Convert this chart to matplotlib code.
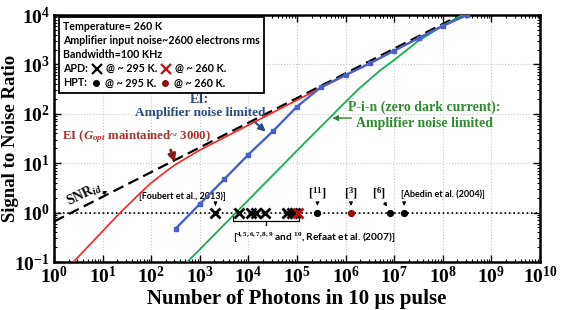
import math
import matplotlib
matplotlib.use('Agg')
import matplotlib.pyplot as plt
from matplotlib.ticker import LogLocator, FuncFormatter, NullFormatter
from matplotlib.offsetbox import TextArea, HPacker, VPacker, AnchoredOffsetbox, DrawingArea
from matplotlib.lines import Line2D

plt.rcParams['mathtext.fontset'] = 'custom'
plt.rcParams['mathtext.rm'] = 'Liberation Serif:bold'
plt.rcParams['mathtext.bf'] = 'Liberation Serif:bold'
plt.rcParams['mathtext.it'] = 'Liberation Serif:italic:bold'
plt.rcParams['mathtext.sf'] = 'Liberation Serif:bold'

# ---------------- data ----------------
ideal_photons = [1, 2.3e8]
ideal_snr = [0.66, 1.0e4]

ei_gopt_photons = [2.5, 10, 23, 50, 100, 200, 300, 1e3, 1e4, 1e5, 1e6, 1e7, 1e8, 2.6e8]
ei_gopt_snr = [0.1, 0.42, 1.0, 2.1, 4.0, 6.8, 9.1, 18.5, 59, 190, 600, 1900, 6100, 1e4]

ei_amp_photons = [316, 1e3, 3.16e3, 1e4, 3.16e4, 1e5, 3.16e5, 1e6, 3.16e6, 1e7, 3.16e7, 1e8, 3.16e8]
ei_amp_snr = [0.47, 1.5, 4.7, 15, 44, 140, 350, 610, 1050, 1900, 3400, 6000, 1e4]

pin_photons = [550, 1e3, 1e4, 1e5, 5e5, 1e6, 2e6, 3e6, 5e6, 1e7, 3e7, 1e8, 3e8]
pin_snr = [0.1, 0.18, 1.8, 18, 88, 175, 340, 480, 740, 1230, 2900, 6100, 11000]

apd_295_photons = [2100, 6500, 11500, 14000, 22000, 63000, 78000, 91000]
apd_260_photons = [107000]
hpt_295_photons = [2.63e5, 8.2e6, 1.6e7]
hpt_260_photons = [1.29e6]
unity_snr = 1.0

# ---------------- figure ----------------
fig = plt.figure(figsize=(5.61, 3.10), dpi=100)
ax = fig.add_axes([0.0963, 0.1548, 0.8663, 0.7968])
ax.set_xscale('log')
ax.set_yscale('log')
ax.set_xlim(1, 1e10)
ax.set_ylim(0.1, 1e4)

ax.grid(True, which='major', color='#c8c8c8', linestyle=':', linewidth=0.8)
ax.set_axisbelow(True)

ax.plot([1, 1e10], [unity_snr, unity_snr], color='black', linestyle=':', linewidth=1.2, zorder=2)

ax.plot(ideal_photons, ideal_snr, color='black', linestyle=(0, (5, 2.5)), linewidth=1.6, zorder=3)
ax.plot(ei_gopt_photons, ei_gopt_snr, color='#ff2020', linewidth=1.2, zorder=4)
ax.plot(ei_amp_photons, ei_amp_snr, color='#4a5fcf', linewidth=1.7, marker='s', markersize=3.3, zorder=5)
ax.plot(pin_photons, pin_snr, color='#10b050', linewidth=1.3, zorder=4)

ax.plot(apd_295_photons, [unity_snr] * len(apd_295_photons), linestyle='none', marker='x',
        color='black', markersize=6.5, markeredgewidth=2.0, zorder=6)
ax.plot(apd_260_photons, [unity_snr] * len(apd_260_photons), linestyle='none', marker='x',
        color='#c01010', markersize=6.5, markeredgewidth=2.0, zorder=6)
ax.plot(hpt_295_photons, [unity_snr] * len(hpt_295_photons), linestyle='none', marker='o',
        color='black', markersize=4.2, zorder=6)
ax.plot(hpt_260_photons, [unity_snr] * len(hpt_260_photons), linestyle='none', marker='o',
        color='#8b1010', markersize=4.2, zorder=6)

# ---------------- axes styling ----------------
for s in ax.spines.values():
    s.set_linewidth(1.8)
ax.xaxis.set_major_locator(LogLocator(base=10, numticks=20))
ax.yaxis.set_major_locator(LogLocator(base=10, numticks=20))
ax.xaxis.set_minor_locator(LogLocator(base=10, subs=range(2, 10), numticks=20))
ax.yaxis.set_minor_locator(LogLocator(base=10, subs=range(2, 10), numticks=20))
fmt = FuncFormatter(lambda v, p: r'$\mathbf{10^{%d}}$' % round(math.log10(v)))
ax.xaxis.set_major_formatter(fmt)
ax.yaxis.set_major_formatter(fmt)
ax.xaxis.set_minor_formatter(NullFormatter())
ax.yaxis.set_minor_formatter(NullFormatter())
ax.tick_params(which='both', direction='in', top=True, right=True, labelsize=14)
ax.tick_params(which='major', length=5, width=1.0, pad=3)
ax.tick_params(which='minor', length=2.5, width=0.8)

ax.set_xlabel('Number of Photons in 10 µs pulse', family='Liberation Serif',
              weight='bold', fontsize=15, labelpad=1)
ax.set_ylabel('Signal to Noise Ratio', family='Liberation Serif',
              weight='bold', fontsize=13.5)
ax.yaxis.set_label_coords(-0.072, 0.5)

serif = dict(family='Liberation Serif', weight='bold')
sans = dict(family='Lato', weight='bold')

# ---------------- annotations ----------------
ax.text(1000, 195, 'EI:', color='#2c4a87', fontsize=10, ha='center', va='center', **serif)
ax.text(1000, 105, 'Amplifier noise limited', color='#2c4a87', fontsize=9.5, ha='center', va='center', **serif)
ax.annotate('', xy=(2.5e4, 40), xytext=(1.2e4, 76),
            arrowprops=dict(arrowstyle='-|>', color='#2c4a87', lw=1.5, mutation_scale=10))

ax.text(1.46, 34, r'EI ($G_{opt}$ maintained~ 3000)', color='#a83232', fontsize=9.3,
        ha='left', va='center', **serif)
ax.annotate('', xy=(320, 9.3), xytext=(240, 21),
            arrowprops=dict(arrowstyle='-|>', color='#8b1a1a', lw=2.0, mutation_scale=11))

ax.text(4.2e7, 138, 'P-i-n (zero dark current):', color='#2e8b2e', fontsize=10,
        ha='center', va='center', **serif)
ax.text(4.2e7, 65, 'Amplifier noise limited', color='#2e8b2e', fontsize=10,
        ha='center', va='center', **serif)
ax.annotate('', xy=(4.7e5, 82), xytext=(1.5e6, 82),
            arrowprops=dict(arrowstyle='-|>', color='#2e7d32', lw=1.0, mutation_scale=8))

ax.text(4.3, 2.3, r'SNR$_{id}$', color='black', fontsize=10, rotation=26,
        ha='center', va='center', rotation_mode='anchor', **serif)
ax.annotate('', xy=(14, 2.9), xytext=(9, 2.3),
            arrowprops=dict(arrowstyle='-|>', color='black', lw=0.8, mutation_scale=5))

# reference labels
ax.text(430, 2.1, '[Foubert et al., 2013)]', fontsize=6.5, ha='center', va='center', **sans)
ax.annotate('', xy=(2100, 1.2), xytext=(2100, 1.65),
            arrowprops=dict(arrowstyle='-|>', color='black', lw=0.8, mutation_scale=5))

ax.text(2.63e5, 2.5, r'[$^{11}$]', fontsize=9, ha='center', va='center', **serif)
ax.annotate('', xy=(2.63e5, 1.2), xytext=(2.63e5, 1.75),
            arrowprops=dict(arrowstyle='-|>', color='black', lw=0.8, mutation_scale=5))
ax.text(1.29e6, 2.5, r'[$^{3}$]', fontsize=9, ha='center', va='center', **serif)
ax.annotate('', xy=(1.29e6, 1.2), xytext=(1.29e6, 1.75),
            arrowprops=dict(arrowstyle='-|>', color='black', lw=0.8, mutation_scale=5))
ax.text(5.0e6, 2.5, r'[$^{6}$]', fontsize=9, ha='center', va='center', **serif)
ax.annotate('', xy=(7.8e6, 1.2), xytext=(5.8e6, 1.75),
            arrowprops=dict(arrowstyle='-|>', color='black', lw=0.8, mutation_scale=5))
ax.text(1.0e8, 2.38, '[Abedin et al. (2004)]', fontsize=6.5, ha='center', va='center', **sans)
ax.annotate('', xy=(1.6e7, 1.2), xytext=(1.6e7, 1.75),
            arrowprops=dict(arrowstyle='-|>', color='black', lw=0.8, mutation_scale=5))

# bracket
bx0, bx1, bmid = 4.8e3, 1.1e5, 2.3e4
ax.plot([bx0, bx0, bx1, bx1], [0.93, 0.685, 0.685, 0.93], color='black', lw=0.9, zorder=3)
ax.plot([bmid, bmid], [0.685, 0.56], color='black', lw=0.9, zorder=3)
ax.text(bx0, 0.31, r'[$^{4, 5, 6, 7, 8, 9}$ and $^{10}$, Refaat et al. (2007)]', fontsize=7.3,
        ha='left', va='center', **sans)

# ---------------- info box ----------------
tp = dict(family='Lato', weight='bold', size=7.7, color='black')


def marker_area(marker, color, ms, mew):
    da = DrawingArea(10, 7, 0, 0)
    da.add_artist(Line2D([5], [3.5], marker=marker, color=color, markersize=ms,
                         markeredgewidth=mew, linestyle='none'))
    return da


rows = [
    TextArea('Temperature= 260 K', textprops=tp),
    TextArea('Amplifier input noise~2600 electrons rms', textprops=tp),
    TextArea('Bandwidth=100 KHz', textprops=tp),
    HPacker(children=[TextArea('APD:', textprops=tp), marker_area('x', 'black', 6.5, 1.6),
                      TextArea('@ ~ 295 K.', textprops=tp), marker_area('x', '#c01010', 6.5, 1.6),
                      TextArea('@ ~ 260 K.', textprops=tp)], sep=1.5, align='center'),
    HPacker(children=[TextArea('HPT:', textprops=tp), marker_area('o', 'black', 4, 1),
                      TextArea('@ ~ 295 K.', textprops=tp), marker_area('o', '#8b1010', 4, 1),
                      TextArea('@ ~ 260 K.', textprops=tp)], sep=1.5, align='center'),
]
vp = VPacker(children=rows, sep=2.2, align='left')
box = AnchoredOffsetbox(loc='upper left', child=vp, pad=0.3, borderpad=0,
                        bbox_to_anchor=(0.0103, 0.992), bbox_transform=ax.transAxes, frameon=True)
box.patch.set_edgecolor('black')
box.patch.set_linewidth(1.3)
box.patch.set_boxstyle('square', pad=0)
ax.add_artist(box)

fig.savefig('out.png', dpi=100)
